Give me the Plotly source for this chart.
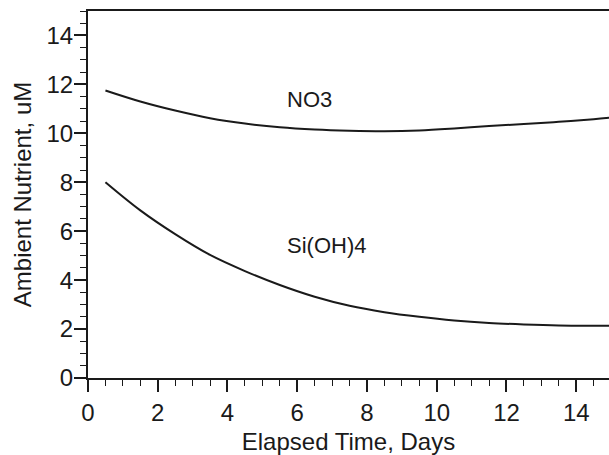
import plotly.graph_objects as go

# Elapsed time (days) and ambient nutrient concentrations (uM)
days = [0.5, 1.5, 2.5, 3.5, 4.5, 5.5, 6.5, 7.5, 8.5, 9.5, 10.5, 11.5, 12.5, 13.5, 14.5, 15]
no3 = [11.75, 11.3, 10.93, 10.62, 10.4, 10.25, 10.16, 10.11, 10.09, 10.12, 10.2, 10.3, 10.38, 10.47, 10.58, 10.65]
sioh4 = [8.0, 6.85, 5.88, 5.03, 4.37, 3.8, 3.32, 2.95, 2.69, 2.5, 2.35, 2.25, 2.19, 2.15, 2.14, 2.14]

series_names = ["NO3", "Si(OH)4"]
label_x = [5.66, 5.66]
label_y = [11.37, 5.41]

FONT = "Liberation Sans, Arial, Helvetica, sans-serif"
INK = "#1a1a1a"

fig = go.Figure()
for ys in (no3, sioh4):
    fig.add_trace(go.Scatter(
        x=days, y=ys, mode="lines",
        line=dict(color=INK, width=2, shape="spline", smoothing=1.0),
        showlegend=False, hoverinfo="skip",
    ))

for name, lx, ly in zip(series_names, label_x, label_y):
    fig.add_annotation(x=lx, y=ly, text=name, showarrow=False,
                       xanchor="left", yanchor="middle",
                       font=dict(family=FONT, size=22, color=INK))

axis_common = dict(
    showgrid=False, zeroline=False,
    showline=True, linecolor=INK, linewidth=2,
    ticks="outside", ticklen=12, tickwidth=1.5, tickcolor=INK,
    dtick=2, tick0=0,
    tickfont=dict(family=FONT, size=24, color=INK),
    minor=dict(ticks="outside", ticklen=6, tickwidth=1.2, tickcolor=INK, dtick=0.5, tick0=0),
)

fig.update_layout(
    width=609, height=455,
    margin=dict(l=88, r=0, t=11, b=77),
    paper_bgcolor="white", plot_bgcolor="white",
    xaxis=dict(range=[0, 14.94], mirror=True,
               title=dict(text="Elapsed Time, Days", standoff=8,
                          font=dict(family=FONT, size=24, color=INK)),
               **axis_common),
    yaxis=dict(range=[0, 15], ticklabelstandoff=-4,
               title=dict(text="Ambient Nutrient, uM", standoff=8,
                          font=dict(family=FONT, size=24, color=INK)),
               **axis_common),
)

fig.write_html("out.html")
